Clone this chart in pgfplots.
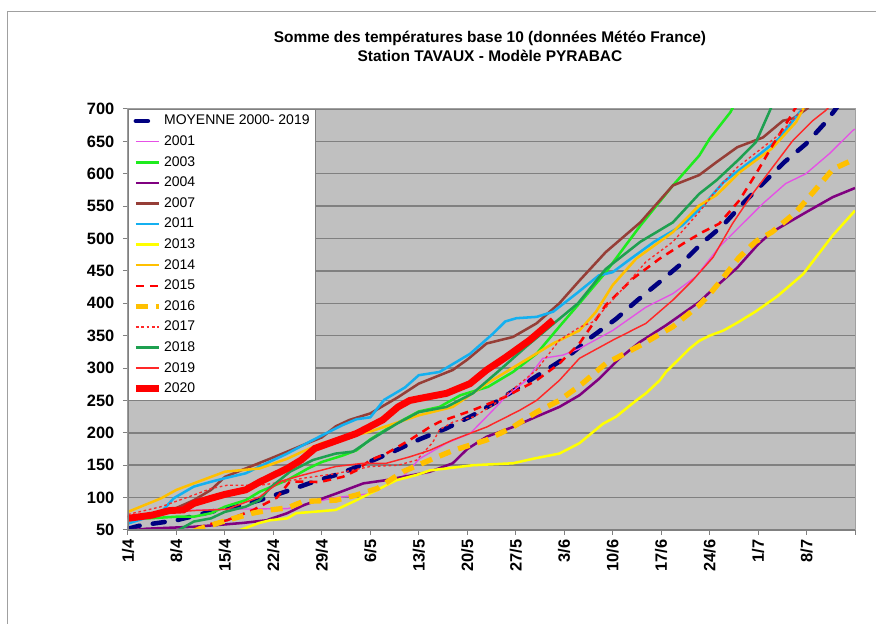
\documentclass[border=0pt]{standalone}
\usepackage{fontspec}
\setmainfont{Liberation Sans}
\usepackage{pgfplots}
\pgfplotsset{compat=1.18}
\definecolor{plotgray}{HTML}{C0C0C0}
\definecolor{gridgray}{HTML}{808080}
\definecolor{boxgray}{HTML}{A0A0A0}
\definecolor{cmoy}{HTML}{000080}
\definecolor{c01}{RGB}{230,80,230}
\definecolor{c03}{RGB}{30,235,30}
\definecolor{c04}{HTML}{800080}
\definecolor{c07}{RGB}{150,62,55}
\definecolor{c11}{RGB}{20,176,240}
\definecolor{c13}{HTML}{FFFF00}
\definecolor{c14}{HTML}{FFC000}
\definecolor{c15}{HTML}{FF0000}
\definecolor{c16}{HTML}{FFC000}
\definecolor{c17}{RGB}{255,40,40}
\definecolor{c18}{RGB}{30,160,80}
\definecolor{c19}{RGB}{255,40,40}
\definecolor{c20}{HTML}{FF0000}
\begin{document}
\begin{tikzpicture}
\path[use as bounding box] (-96pt,-70.5pt) rectangle (561pt,397.5pt);
\draw[boxgray,line width=0.75pt] (-90pt,-80pt) -- (-90pt,388.5pt) -- (570pt,388.5pt);
\node[font=\bfseries\fontsize{11.6}{13}\selectfont] at (271.5pt,369pt) {Somme des températures base 10 (données Météo France)};
\node[font=\bfseries\fontsize{11.6}{13}\selectfont] at (271.5pt,355.5pt) {Station TAVAUX - Modèle PYRABAC};
\begin{axis}[
  at={(0pt,0pt)}, anchor=south west,
  scale only axis, width=545.25pt, height=315.75pt,
  xmin=0, xmax=105, ymin=50, ymax=700,
  axis background/.style={fill=plotgray},
  axis line style={draw=boxgray, line width=0.75pt},
  ytick={50,100,...,700},
  ymajorgrids, grid style={draw=gridgray, line width=1.1pt},
  xtick={0,7,...,105},
  xticklabels={1/4,8/4,15/4,22/4,29/4,6/5,13/5,20/5,27/5,3/6,10/6,17/6,24/6,1/7,8/7,{}},
  xtick pos=bottom, ytick pos=left,
  tick align=outside, major tick length=3.75pt,
  tick style={draw=gridgray, line width=0.75pt},
  /pgf/number format/assume math mode=true,
  x tick label style={rotate=90, anchor=east, font=\bfseries\fontsize{12.3}{12}\selectfont},
  y tick label style={font=\bfseries\fontsize{12.3}{12}\selectfont, xshift=-3pt},
  legend cell align=left,
  legend style={at={(0,1)}, anchor=north west, draw=gridgray, fill=white, line width=0.6pt,
    font=\fontsize{10.5}{12}\selectfont, row sep=0pt, inner ysep=1pt,
    nodes={inner ysep=0pt, inner xsep=1.5pt, minimum height=15.45pt}},
]
% MOYENNE
\addplot[cmoy, line width=3.4pt, line cap=round, dash pattern=on 9pt off 10pt] coordinates {
(0,52) (1.8,57) (7,65) (11.9,78) (15.7,86) (19,96) (22.7,109) (26.7,124) (30.6,137) (34.4,153) (38.3,171) (42.1,190) (46,207) (49.8,227) (53.2,248) (57,274) (60.4,297) (63.8,320) (66.7,346) (70.5,376) (73.6,405) (76.8,433) (79.9,461) (82.8,492) (85.9,520) (88.8,554) (91.7,585) (94.8,618) (97.9,646) (100.8,680) (102.2,700) (103,712)};
\addlegendentry{MOYENNE 2000- 2019}
% 2001
\addplot[c01, line width=1pt] coordinates {
(0,68) (5,75) (8,80) (14,82) (23,83) (27.7,95) (30,100) (34.9,106) (37.3,118) (40,135) (42.1,160) (46,184) (49.4,199) (51.8,225) (54.6,256) (57.5,281) (59.9,315) (62.8,320) (65.2,330) (70,358) (74.8,394) (78.7,415) (82,441) (85.4,487) (88.3,518) (91.7,554) (95,585) (97.9,600) (101.3,631) (104.7,667) (105,669)};
\addlegendentry{2001}
% 2003
\addplot[c03, line width=1.9pt] coordinates {
(0,67) (3,68) (7,70.5) (9.5,70.5) (12,76) (14,86) (17,96) (19,109) (23,127) (26,145) (28,155) (31,165) (33,173) (35,190) (38,210) (42,233) (45,240) (48,258) (52,271) (55.6,294) (59,322) (62.3,364) (65.2,400) (69,448) (74,520) (78.7,582) (82.5,628) (84,654) (87,695) (87.5,705)};
\addlegendentry{2003}
% 2004
\addplot[c04, line width=1.9pt] coordinates {
(0,49) (2.7,52) (9.5,55) (13.3,58) (16.7,61) (20,65) (23,76) (25.3,88) (30,106) (34,122) (37.3,127) (41.2,135) (43.6,140) (46.9,153) (49,175) (51.8,194) (55.6,209) (59,225) (62.3,240) (65.2,258) (68.1,284) (71,315) (73.9,340) (77.7,366) (82.5,402) (84,417) (88,455) (91,491) (93,510) (98,541) (101.8,564) (105,578)};
\addlegendentry{2004}
% 2007
\addplot[c07, line width=1.9pt] coordinates {
(0,70) (4,75) (7,84) (9.5,96) (12,112) (14,132) (17,145) (20.5,160) (23,171) (25,180) (28,193) (30,210) (32,220) (35,230) (39,255) (42,276) (46.9,297) (49,313) (51.8,338) (55.6,348) (59,369) (62.3,400) (65.2,435) (69,479) (74,525) (78.7,582) (82.5,598) (85,618) (88,641) (91.7,656) (94.6,682) (96,685) (98,700) (99,710)};
\addlegendentry{2007}
% 2011
\addplot[c11, line width=1.9pt] coordinates {
(0,60) (3,70) (5,80) (6.6,99) (9.5,117) (12,124.5) (14,130) (17,137.5) (20,153) (23,168) (26,185) (28,196) (31,212) (33,221) (35,224) (37,251) (40,270) (42,289) (45,294) (49.4,322) (52.7,353) (54.5,372) (56.1,377) (59,379) (61.4,387) (65,417) (68,443) (70,448) (72,464) (76,495) (80,520) (83,550) (86,587) (91,628) (94,654) (97,695) (98,705)};
\addlegendentry{2011}
% 2013
\addplot[c13, line width=1.9pt] coordinates {
(15.2,49) (16.2,50) (19,61) (20.5,65) (23,68) (24.3,76) (26.7,78) (30,81) (33,96) (36,112) (38.8,127) (41.7,135) (43.6,142) (46,145) (49.8,150) (55.6,153) (58.5,160) (62.3,168) (65.2,184) (68.6,214) (70.5,225) (73.4,250) (74.8,261) (76.8,281) (77.7,294) (81.1,330) (82.5,342) (84,350) (86,358) (88,370) (90.6,387) (93.8,411) (97.5,445) (101.8,505) (105,543)};
\addlegendentry{2013}
% 2014
\addplot[c14, line width=1.9pt] coordinates {
(0,78) (4.8,99) (7,112) (12,132) (14,140) (19,145) (23,160) (25,170) (28,184) (35,202) (42,227) (46.9,240) (51.8,276) (56.6,307) (61.4,338) (65.2,358) (67.6,387) (70,428) (73.4,469) (78.7,510) (82.5,551) (85,567) (88.3,602) (93,639) (96.5,680) (97.5,700) (98,708)};
\addlegendentry{2014}
% 2015
\addplot[c15, line width=1.9pt, dash pattern=on 6pt off 4.5pt] coordinates {
(10,52) (11.4,58) (14.3,65) (18.1,81) (21.5,100) (23.4,125) (27.7,124) (31,132) (33,142) (35,158) (37.3,168) (40.7,189) (43.6,209) (45,217) (49.8,235) (54.6,256) (59,281) (62.3,307) (65.2,338) (69,397) (72.9,438) (76.8,469) (80.6,495) (83,510) (85.4,523) (88.3,559) (90.7,600) (93.1,644) (95.5,685) (96.3,700) (97,710)};
\addlegendentry{2015}
% 2016
\addplot[c16, line width=4pt, dash pattern=on 9pt off 6pt] coordinates {
(9.5,48) (10.4,52) (14.3,65) (18,76) (20.5,81) (23,84) (25.3,94) (30,96) (33,104) (36,114) (39.7,140) (43.6,158) (47,173) (51.8,189) (55.6,209) (59,232) (62.3,250) (65.5,275) (69,307) (74,335) (78.7,364) (82.5,397) (84,414) (86,440) (88.2,470) (90.6,495) (93,510) (96.5,541) (99.4,577) (101.8,607) (105,623)};
\addlegendentry{2016}
% 2017
\addplot[c17, line width=1pt, dash pattern=on 2pt off 2pt] coordinates {
(0,74) (4.8,86) (9.5,104) (12,114) (14.3,119) (19,119) (23,125) (25.3,130) (30,137) (35,148) (39,150) (41.7,158) (44,185) (45,205) (47,217) (50,225) (53,245) (56.6,276) (59,297) (62.3,343) (65.2,363) (67.1,371) (71,417) (74.8,464) (78.7,495) (82.5,541) (85,575) (88,610) (91,635) (94,660) (97,695) (98,705)};
\addlegendentry{2017}
% 2018
\addplot[c18, line width=1.9pt] coordinates {
(7,48) (9.5,63) (12,68) (14,78) (17,86) (19,96) (20.5,115) (23.4,140) (26.7,158) (30,168) (32.5,171) (35,189) (38.8,214) (42,232) (46,240) (49.8,261) (53.7,297) (57.5,333) (61.4,368) (65,400) (69,453) (74,495) (78.7,525) (82.5,569) (85,590) (88.3,623) (90.7,649) (92.6,695) (93,705)};
\addlegendentry{2018}
% 2019
\addplot[draw=c19, line width=1.1pt] coordinates {
(0,70) (4.8,76) (9.5,80) (14.3,82) (19,101) (22,125) (25.3,135) (30,148) (34,153) (37.3,153) (40.7,163) (43.6,173) (46.9,189) (51.8,209) (56.6,235) (59,250) (62.3,281) (65.2,315) (70,343) (74.8,369) (78.7,405) (81.6,436) (84.5,471) (87.3,523) (90.2,569) (93.1,610) (96,651) (98.9,682) (100.8,698) (101.5,706)};
\addlegendentry{2019}
% 2020
\addplot[c20, line width=5.2pt] coordinates {
(0,68) (3.5,73) (6,80) (8,81) (9.5,91) (12,99) (14,105) (17,112) (19,124) (23,145) (25,158) (27,176) (29.6,186) (33,199) (36.8,220) (39,240) (40.7,250) (42.1,253) (46,261) (49.4,276) (51.8,297) (54.6,317) (58,343) (61.4,374)};
\addlegendentry{2020}
\draw[gridgray, line width=0.9pt] (axis cs:0,50) -- (axis cs:0,700);
\draw[gridgray, line width=0.9pt] (axis cs:0,50) -- (axis cs:105,50);
\end{axis}
\end{tikzpicture}
\end{document}
